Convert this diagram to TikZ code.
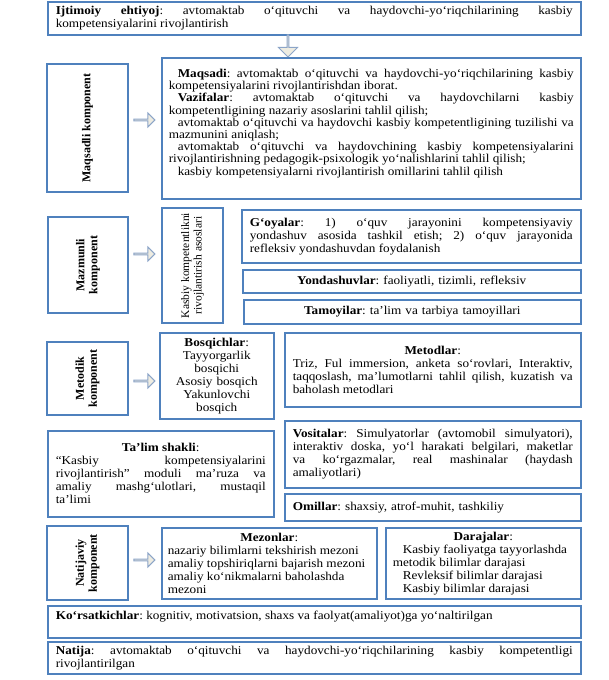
\documentclass[tikz,border=0pt]{standalone}
\usepackage{fontspec}
\setmainfont[FakeStretch=1.1]{Liberation Serif}
\newfontfamily\rotfont{Liberation Serif}
\usetikzlibrary{shapes.arrows}
\definecolor{boxblue}{RGB}{79,129,189}
\definecolor{arrowfill}{RGB}{238,236,225}
\definecolor{arrowline}{RGB}{140,165,200}

\begin{document}
\begin{tikzpicture}[x=1pt,y=-1pt,
		every node/.style={font=\fontsize{12}{13}\selectfont},
		boxstyle/.style={draw=boxblue,line width=1.5pt,anchor=north west,inner xsep=8pt,inner ysep=3pt,align=justify,
			execute at begin node={\frenchspacing\hyphenpenalty=10000\exhyphenpenalty=10000\parindent=0pt}},
		compstyle/.style={draw=boxblue,line width=1.5pt,rotate=90,align=center,inner sep=2pt,
			font=\rotfont\fontsize{12}{13}\selectfont\bfseries},
		myarrow/.style={single arrow,draw=arrowline,fill=arrowfill,line width=1pt,inner sep=0pt,
			minimum height=21pt,minimum width=14pt,single arrow head extend=4pt}]
		
		\useasboundingbox (0,0) rectangle (608,680);
		
		% top
		\node[boxstyle,minimum width=533pt,minimum height=33pt,text width=517pt] (ehtiyoj) at (47,1)
			{\textbf{Ijtimoiy ehtiyoj}: avtomaktab o‘qituvchi va haydovchi-yo‘riqchilarining kasbiy\linebreak kompetensiyalarini rivojlantirish};
		\node[myarrow,shape border rotate=270,minimum height=22pt,minimum width=19pt,single arrow head extend=4.5pt] (pastga) at (288,45.5) {};
		
		% maqsadli komponent
		\node[compstyle,minimum width=128pt,minimum height=81pt] (maqsadli) at (87.5,128) {Maqsadli komponent};
		\node[myarrow] (strelka1) at (144,120) {};
		\node[boxstyle,minimum width=419pt,minimum height=141pt,text width=405pt,inner xsep=7pt,
			font=\fontsize{12}{12.2}\selectfont] (maqsad) at (161,57)
			{\hspace*{9pt}\textbf{Maqsadi}: avtomaktab o‘qituvchi va haydovchi-yo‘riqchilarining kasbiy\linebreak kompetensiyalarini rivojlantirishdan iborat.\par
			\hspace*{9pt}\textbf{Vazifalar}: avtomaktab o‘qituvchi va haydovchilarni kasbiy\linebreak kompetentligining nazariy asoslarini tahlil qilish;\par
			\hspace*{9pt}avtomaktab o‘qituvchi va haydovchi kasbiy kompetentligining tuzilishi va\linebreak mazmunini aniqlash;\par
			\hspace*{9pt}avtomaktab o‘qituvchi va haydovchining kasbiy kompetensiyalarini\linebreak rivojlantirishning pedagogik-psixologik yo‘nalishlarini tahlil qilish;\par
			\hspace*{9pt}kasbiy kompetensiyalarni rivojlantirish omillarini tahlil qilish\par\mbox{}};
		
		% mazmunli komponent
		\node[compstyle,minimum width=96pt,minimum height=80pt] (mazmunli) at (88,265) {Mazmunli\\komponent};
		\node[myarrow] (strelka2) at (144,254) {};
		\node[compstyle,font=\rotfont\fontsize{11.5}{12.5}\selectfont,minimum width=115pt,minimum height=61pt] (asoslar) at (192.5,265.5)
			{Kasbiy kompetentlikni\\rivojlantirish asoslari};
		\node[boxstyle,minimum width=339pt,minimum height=53pt,text width=323pt] (goyalar) at (241,209)
			{\textbf{G‘oyalar}: 1) o‘quv jarayonini kompetensiyaviy\linebreak yondashuv asosida tashkil etish; 2) o‘quv jarayonida\linebreak refleksiv yondashuvdan foydalanish};
		\node[boxstyle,minimum width=338pt,minimum height=23pt,text width=322pt,align=center,inner ysep=1pt] (yondashuv) at (242,269)
			{\textbf{Yondashuvlar}: faoliyatli, tizimli, refleksiv};
		\node[boxstyle,minimum width=337pt,minimum height=24pt,text width=321pt,align=center,inner ysep=1pt] (tamoyil) at (243,299)
			{\textbf{Tamoyilar}: ta’lim va tarbiya tamoyillari};
		
		% metodik komponent
		\node[compstyle,minimum width=73pt,minimum height=81pt] (metodik) at (87.5,378.5) {Metodik\\komponent};
		\node[myarrow] (strelka3) at (144,381) {};
		\node[boxstyle,minimum width=114pt,minimum height=86pt,text width=100pt,inner xsep=7pt,align=center] (bosqich) at (159,332)
			{\textbf{Bosqichlar}:\\Tayyorgarlik\\bosqichi\\Asosiy bosqich\\Yakunlovchi\\bosqich};
		\node[boxstyle,minimum width=296pt,minimum height=74pt,text width=280pt] (metodlar) at (284,332)
			{{\centering\textbf{Metodlar}:\par}Triz, Ful immersion, anketa so‘rovlari, Interaktiv,\linebreak taqqoslash, ma’lumotlarni tahlil qilish, kuzatish va\linebreak baholash metodlari};
		\node[boxstyle,minimum width=296pt,minimum height=67pt,text width=280pt] (vositalar) at (284,420)
			{\textbf{Vositalar}: Simulyatorlar (avtomobil simulyatori),\linebreak interaktiv doska, yo‘l harakati belgilari, maketlar\linebreak va ko‘rgazmalar, real mashinalar (haydash\linebreak amaliyotlari)};
		\node[boxstyle,minimum width=226pt,minimum height=86pt,text width=210pt] (talim) at (47,430)
			{{\centering\textbf{Ta’lim shakli}:\par}“Kasbiy kompetensiyalarini\linebreak rivojlantirish” moduli ma’ruza va\linebreak amaliy mashg‘ulotlari, mustaqil\linebreak ta’limi};
		\node[boxstyle,minimum width=296pt,minimum height=27pt,text width=280pt,align=left] (omillar) at (284,493)
			{\textbf{Omillar}: shaxsiy, atrof-muhit, tashkiliy};
		
		% natijaviy komponent
		\node[compstyle,minimum width=74pt,minimum height=81pt] (natijaviy) at (87.5,563) {Natijaviy\\komponent};
		\node[myarrow] (strelka4) at (144,560) {};
		\node[boxstyle,minimum width=215pt,minimum height=71pt,text width=203pt,inner xsep=6pt] (mezonlar) at (161,527)
			{{\centering\textbf{Mezonlar}:\par}nazariy bilimlarni tekshirish mezoni\par amaliy topshiriqlarni bajarish mezoni\par amaliy ko‘nikmalarni baholashda\par mezoni};
		\node[boxstyle,minimum width=195pt,minimum height=71pt,text width=181pt,inner xsep=7pt] (darajalar) at (385,527)
			{{\centering\textbf{Darajalar}:\par}\hspace*{10pt}Kasbiy faoliyatga tayyorlashda\par metodik bilimlar darajasi\par\hspace*{10pt}Revleksif bilimlar darajasi\par\hspace*{10pt}Kasbiy bilimlar darajasi};
		
		% bottom
		\node[boxstyle,minimum width=533pt,minimum height=32pt,text width=517pt] (korsatkich) at (47,605)
			{\textbf{Ko‘rsatkichlar}: kognitiv, motivatsion, shaxs va faolyat(amaliyot)ga yo‘naltirilgan\par\mbox{}};
		\node[boxstyle,minimum width=533pt,minimum height=32pt,text width=517pt] (natija) at (47,641)
			{\textbf{Natija}: avtomaktab o‘qituvchi va haydovchi-yo‘riqchilarining kasbiy kompetentligi\linebreak rivojlantirilgan};
\end{tikzpicture}
\end{document}
